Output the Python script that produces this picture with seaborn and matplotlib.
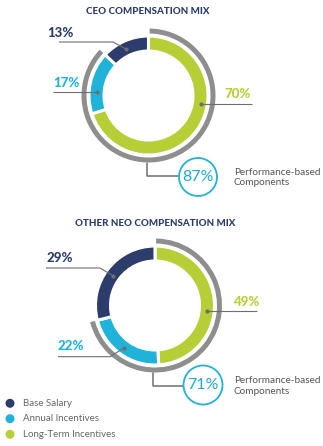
import matplotlib
matplotlib.use("Agg")
import matplotlib.pyplot as plt
from matplotlib.patches import Wedge, Circle
import seaborn as sns
import pandas as pd

# ---- data ----
categories = ["Base Salary", "Annual Incentives", "Long-Term Incentives"]
ceo_values = [13, 17, 70]
neo_values = [29, 22, 49]
ceo_perf = 87
neo_perf = 71
titles = ["CEO COMPENSATION MIX", "OTHER NEO COMPENSATION MIX"]
perf_label = "Performance-based\nComponents"

colors = ["#2C3D6B", "#1FB3DA", "#B7CE37"]
grey = "#8E8E8E"
line_c = "#6E6E6E"

sns.set_theme(style="white")
plt.rcParams['font.family'] = ['Lato', 'DejaVu Sans']

W, H = 323, 446
fig = plt.figure(figsize=(W / 100, H / 100), dpi=100)
ax = fig.add_axes([0, 0, 1, 1])

def Y(py):
    return H - py

def donut(values, perf, center, title_xy, labels_spec, circ, conn, ptext):
    cx, cy = center
    # order clockwise from top: LTI, Annual, Base
    vals = [values[2], values[1], values[0]]
    cols = [colors[2], colors[1], colors[0]]
    ax.pie(vals, colors=cols, startangle=90, counterclock=False,
           radius=59.5, center=(cx, Y(cy)),
           wedgeprops=dict(width=15, edgecolor="white", linewidth=2.2))
    # grey arc for performance-based share
    span = perf / 100 * 360
    ax.add_patch(Wedge((cx, Y(cy)), 67, 89 - span + 1, 89, width=5,
                       facecolor=grey, edgecolor="none"))
    ax.text(title_xy[0], Y(title_xy[1]), titles[title_xy[2]], ha="center", va="center",
            fontsize=7, fontweight="black", color="#2C3D6B")
    for k, (txt, col, tx, ty, pts) in enumerate(labels_spec):
        ax.text(tx, Y(ty), txt, ha="center", va="center", fontsize=9.5,
                fontweight="black", color=col)
        xs = [p[0] for p in pts]
        ys = [Y(p[1]) for p in pts]
        ax.plot(xs, ys, color=line_c, lw=0.8, solid_capstyle="butt")
        dot = pts[0] if k == 2 else pts[-1]
        ax.plot([dot[0]], [Y(dot[1])], marker="o", ms=2, color=line_c)
    # connector and circle
    ax.plot([conn[0][0], conn[1][0], conn[2][0]],
            [Y(conn[0][1]), Y(conn[1][1]), Y(conn[2][1])], color=line_c, lw=1.1)
    ax.add_patch(Circle((circ[0], Y(circ[1])), circ[2], facecolor="white",
                        edgecolor="#22B2D6", lw=1.3, zorder=5))
    ax.text(circ[0], Y(circ[1]), f"{perf}%", ha="center", va="center", fontsize=11.5,
            fontweight="normal", color="#1FA9D0", zorder=6)
    ax.text(ptext[0], Y(ptext[1]), perf_label, ha="left", va="center", fontsize=7.2,
            color="#555555", linespacing=1.2)

donut(ceo_values, ceo_perf, (148.5, 95.5), (148, 11, 0),
      [("13%", colors[0], 60, 33, [(59, 42), (113, 42), (126, 49)]),
       ("17%", colors[1], 66.5, 83, [(52.5, 92), (97, 92)]),
       ("70%", colors[2], 238, 94.5, [(201, 104.3), (252, 104.3)])],
      (198, 177, 19), [(147.3, 163), (147.3, 176), (179, 176)], (234, 177.5))

donut(neo_values, neo_perf, (155, 305.5), (155, 224, 1),
      [("29%", colors[0], 60, 258, [(46, 268), (100, 268), (113, 275.7)]),
       ("22%", colors[1], 71, 346, [(58, 356.7), (110, 356.7), (124, 348)]),
       ("49%", colors[2], 246, 301.5, [(206.7, 311), (257, 311)])],
      (203, 385, 19.5), [(152.5, 373), (152.5, 386), (183.5, 386)], (234, 386))

# legend
leg = pd.DataFrame({"x": [10, 10, 10], "y": [Y(403.3), Y(418.7), Y(434.3)],
                    "cat": categories})
sns.scatterplot(data=leg, x="x", y="y", hue="cat", palette=colors, s=42,
                edgecolor="none", legend=False, ax=ax)
for i, c in enumerate(categories):
    ax.text(23, leg["y"][i], c, ha="left", va="center", fontsize=7, color="#666666")

ax.set_xlim(0, W)
ax.set_ylim(0, H)
ax.set_aspect("equal")
ax.axis("off")
ax.set_xlabel("")
ax.set_ylabel("")
fig.savefig("out.png", dpi=100, facecolor="white")
